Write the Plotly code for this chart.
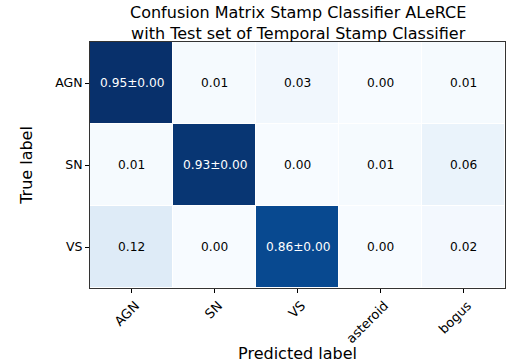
import plotly.graph_objects as go

pred_labels = ["AGN", "SN", "VS", "asteroid", "bogus"]
true_labels = ["AGN", "SN", "VS"]
values = [
    [0.95, 0.01, 0.03, 0.00, 0.01],
    [0.01, 0.93, 0.00, 0.01, 0.06],
    [0.12, 0.00, 0.86, 0.00, 0.02],
]
diag_std = [0.00, 0.00, 0.00]
title_lines = ["Confusion Matrix Stamp Classifier ALeRCE",
               "with Test set of Temporal Stamp Classifier"]

blues = ["#f7fbff", "#deebf7", "#c6dbef", "#9ecae1", "#6baed6",
         "#4292c6", "#2171b5", "#08519c", "#08306b"]
colorscale = [[i / (len(blues) - 1), c] for i, c in enumerate(blues)]

zmax = max(max(r) for r in values)
thresh = zmax / 2

fig = go.Figure(go.Heatmap(
    z=values, x=pred_labels, y=true_labels,
    colorscale=colorscale, zmin=0, zmax=zmax,
    showscale=False, xgap=1, ygap=1, hoverinfo="skip",
))

annotations = []
for i, t in enumerate(true_labels):
    for j, p in enumerate(pred_labels):
        v = values[i][j]
        txt = f"{v:.2f}±{diag_std[i]:.2f}" if i == j else f"{v:.2f}"
        annotations.append(dict(
            x=p, y=t, text=txt, showarrow=False,
            font=dict(size=12.2, color="white" if v > thresh else "black",
                      family="DejaVu Sans"),
        ))

# two-line title as one paper annotation
annotations.append(dict(
    x=0.5, y=1.078, xref="paper", yref="paper", text="<br>".join(title_lines),
    showarrow=False, xanchor="center", yanchor="middle",
    font=dict(size=16, family="DejaVu Sans", color="black"),
))

fig.update_layout(
    width=508, height=363,
    margin=dict(l=90, r=2, t=42, b=71),
    paper_bgcolor="white", plot_bgcolor="white",
    font=dict(family="DejaVu Sans", color="black"),
    annotations=annotations,
)
fig.update_xaxes(
    title=dict(text="Predicted label", font=dict(size=16), standoff=4),
    tickangle=-45, tickfont=dict(size=13), ticklabelshift=4,
    ticks="outside", ticklen=4, tickcolor="black",
    showline=True, linecolor="#333333", linewidth=1, mirror=True,
    showgrid=False, zeroline=False,
)
fig.update_yaxes(
    title=dict(text="True label", font=dict(size=16), standoff=18),
    autorange="reversed", tickfont=dict(size=12.5),
    ticks="outside", ticklen=4, tickcolor="black",
    showline=True, linecolor="#333333", linewidth=1, mirror=True,
    showgrid=False, zeroline=False,
)

fig.write_html("out.html")
